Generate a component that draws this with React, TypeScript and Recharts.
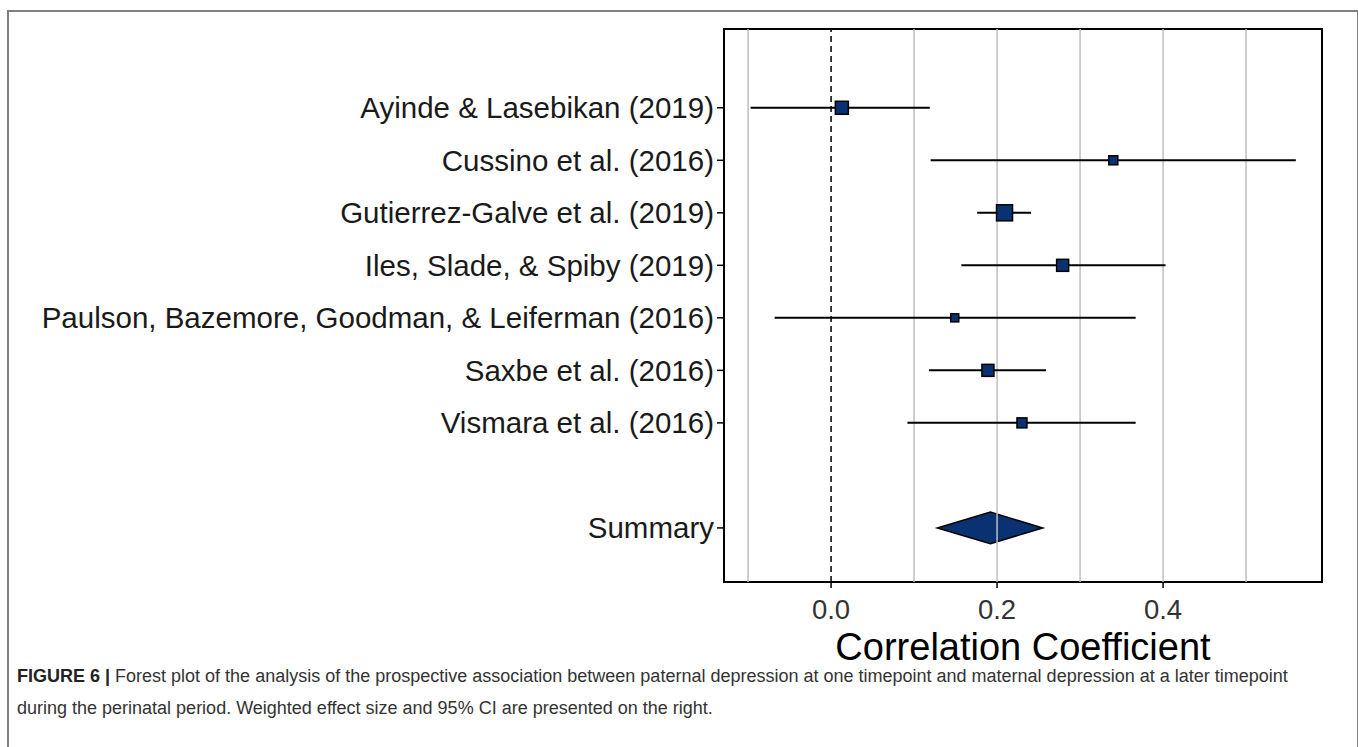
import React from "react";
import {
  ScatterChart,
  Scatter,
  XAxis,
  YAxis,
  ErrorBar,
  ReferenceLine,
  ReferenceArea,
} from "recharts";

// studies, top to bottom
const studies = [
  "Ayinde & Lasebikan (2019)",
  "Cussino et al. (2016)",
  "Gutierrez-Galve et al. (2019)",
  "Iles, Slade, & Spiby (2019)",
  "Paulson, Bazemore, Goodman, & Leiferman (2016)",
  "Saxbe et al. (2016)",
  "Vismara et al. (2016)",
];
const estimates = [0.013, 0.34, 0.209, 0.279, 0.149, 0.189, 0.23];
const lower = [-0.097, 0.12, 0.176, 0.157, -0.068, 0.118, 0.092];
const upper = [0.119, 0.56, 0.241, 0.403, 0.367, 0.259, 0.367];
const weights = [17.6, 8.5, 26.7, 15.0, 6.7, 15.0, 10.4];

const summaryLabel = "Summary";
const summary = { est: 0.192, lo: 0.128, hi: 0.255 };

const xTicks = [0, 0.2, 0.4];
const gridX = [-0.1, 0.1, 0.2, 0.3, 0.4, 0.5];
const xDomain: [number, number] = [-0.129, 0.5915];
const yDomain: [number, number] = [-0.5, 10.03];
const summaryRow = 9;

const rows = studies.map((name, i) => ({
  name,
  x: estimates[i],
  y: i + 1,
  w: weights[i],
  err: [estimates[i] - lower[i], upper[i] - estimates[i]],
}));
const yTicks = [...rows.map((r) => r.y), summaryRow];
const yLabel = (v: number) =>
  v === summaryRow ? summaryLabel : studies[v - 1] ?? "";

const NAVY = "#0a3272";

const Box = (p: any) => {
  const s = Math.sqrt(p.payload.w) * 3.1;
  return (
    <rect
      x={p.cx - s / 2}
      y={p.cy - s / 2}
      width={s}
      height={s}
      fill={NAVY}
      stroke="#000"
      strokeWidth={1.5}
    />
  );
};

const Diamond = (p: any) => {
  const { x, y, width, height } = p;
  const cx = x + (width * (summary.est - summary.lo)) / (summary.hi - summary.lo);
  const cy = y + height / 2;
  const pts = `${x},${cy} ${cx},${y} ${x + width},${cy} ${cx},${y + height}`;
  return <polygon points={pts} fill={NAVY} stroke="#000" strokeWidth={1.5} />;
};

export default function App() {
  return (
    <div
      style={{
        position: "absolute",
        left: 0,
        top: 0,
        width: 1358,
        height: 747,
        background: "#fff",
        overflow: "hidden",
        fontFamily: "'Liberation Sans', Arial, sans-serif",
      }}
    >
      <div
        style={{
          position: "absolute",
          left: 7,
          top: 10,
          width: 1348,
          height: 760,
          border: "2px solid #808080",
          borderBottom: "none",
        }}
      />
      <div style={{ position: "absolute", left: 0, top: 0 }}>
        <ScatterChart
          width={1358}
          height={680}
          margin={{ top: 29, right: 36, left: 9, bottom: 8 }}
        >
          <XAxis
            dataKey="x"
            type="number"
            domain={xDomain}
            allowDataOverflow
            ticks={xTicks}
            tickFormatter={(v: number) => v.toFixed(1)}
            height={90}
            tickSize={6}
            tickMargin={11}
            tick={{ fontSize: 27.5, fill: "#333" }}
            tickLine={{ stroke: "#000", strokeWidth: 1.5 }}
            axisLine={false}
            label={{
              value: "Correlation Coefficient",
              position: "insideBottom",
              offset: 12,
              fontSize: 38,
              fill: "#000",
            }}
          />
          <YAxis
            dataKey="y"
            type="number"
            reversed
            domain={yDomain}
            allowDataOverflow
            ticks={yTicks}
            tickFormatter={yLabel}
            width={715}
            tickSize={7}
            tickMargin={3}
            tick={{ fontSize: 29.5, fill: "#1a1a1a" }}
            tickLine={{ stroke: "#000", strokeWidth: 1.5 }}
            axisLine={false}
            interval={0}
          />
          {gridX.map((g) => (
            <ReferenceLine key={g} x={g} stroke="#bfbfbf" strokeWidth={1.5} />
          ))}
          <ReferenceLine x={0} stroke="#000" strokeWidth={1.5} strokeDasharray="6 4" />
          <ReferenceArea
            x1={summary.lo}
            x2={summary.hi}
            y1={summaryRow - 0.3}
            y2={summaryRow + 0.3}
            shape={Diamond}
          />
          <Scatter data={rows} shape={Box} isAnimationActive={false}>
            <ErrorBar dataKey="err" direction="x" width={0} stroke="#000" strokeWidth={2} />
          </Scatter>
          <ReferenceArea
            x1={xDomain[0]}
            x2={xDomain[1]}
            y1={yDomain[0]}
            y2={yDomain[1]}
            fill="none"
            fillOpacity={0}
            stroke="#000"
            strokeWidth={2}
          />
        </ScatterChart>
      </div>
      <div
        style={{
          position: "absolute",
          left: 17,
          top: 660,
          width: 1330,
          fontSize: 18,
          lineHeight: "32px",
          color: "#333",
          whiteSpace: "nowrap",
        }}
      >
        <b style={{ color: "#222" }}>FIGURE 6 |</b> Forest plot of the analysis of the prospective
        association between paternal depression at one timepoint and maternal depression at a later
        timepoint
        <br />
        during the perinatal period. Weighted effect size and 95% CI are presented on the right.
      </div>
    </div>
  );
}
